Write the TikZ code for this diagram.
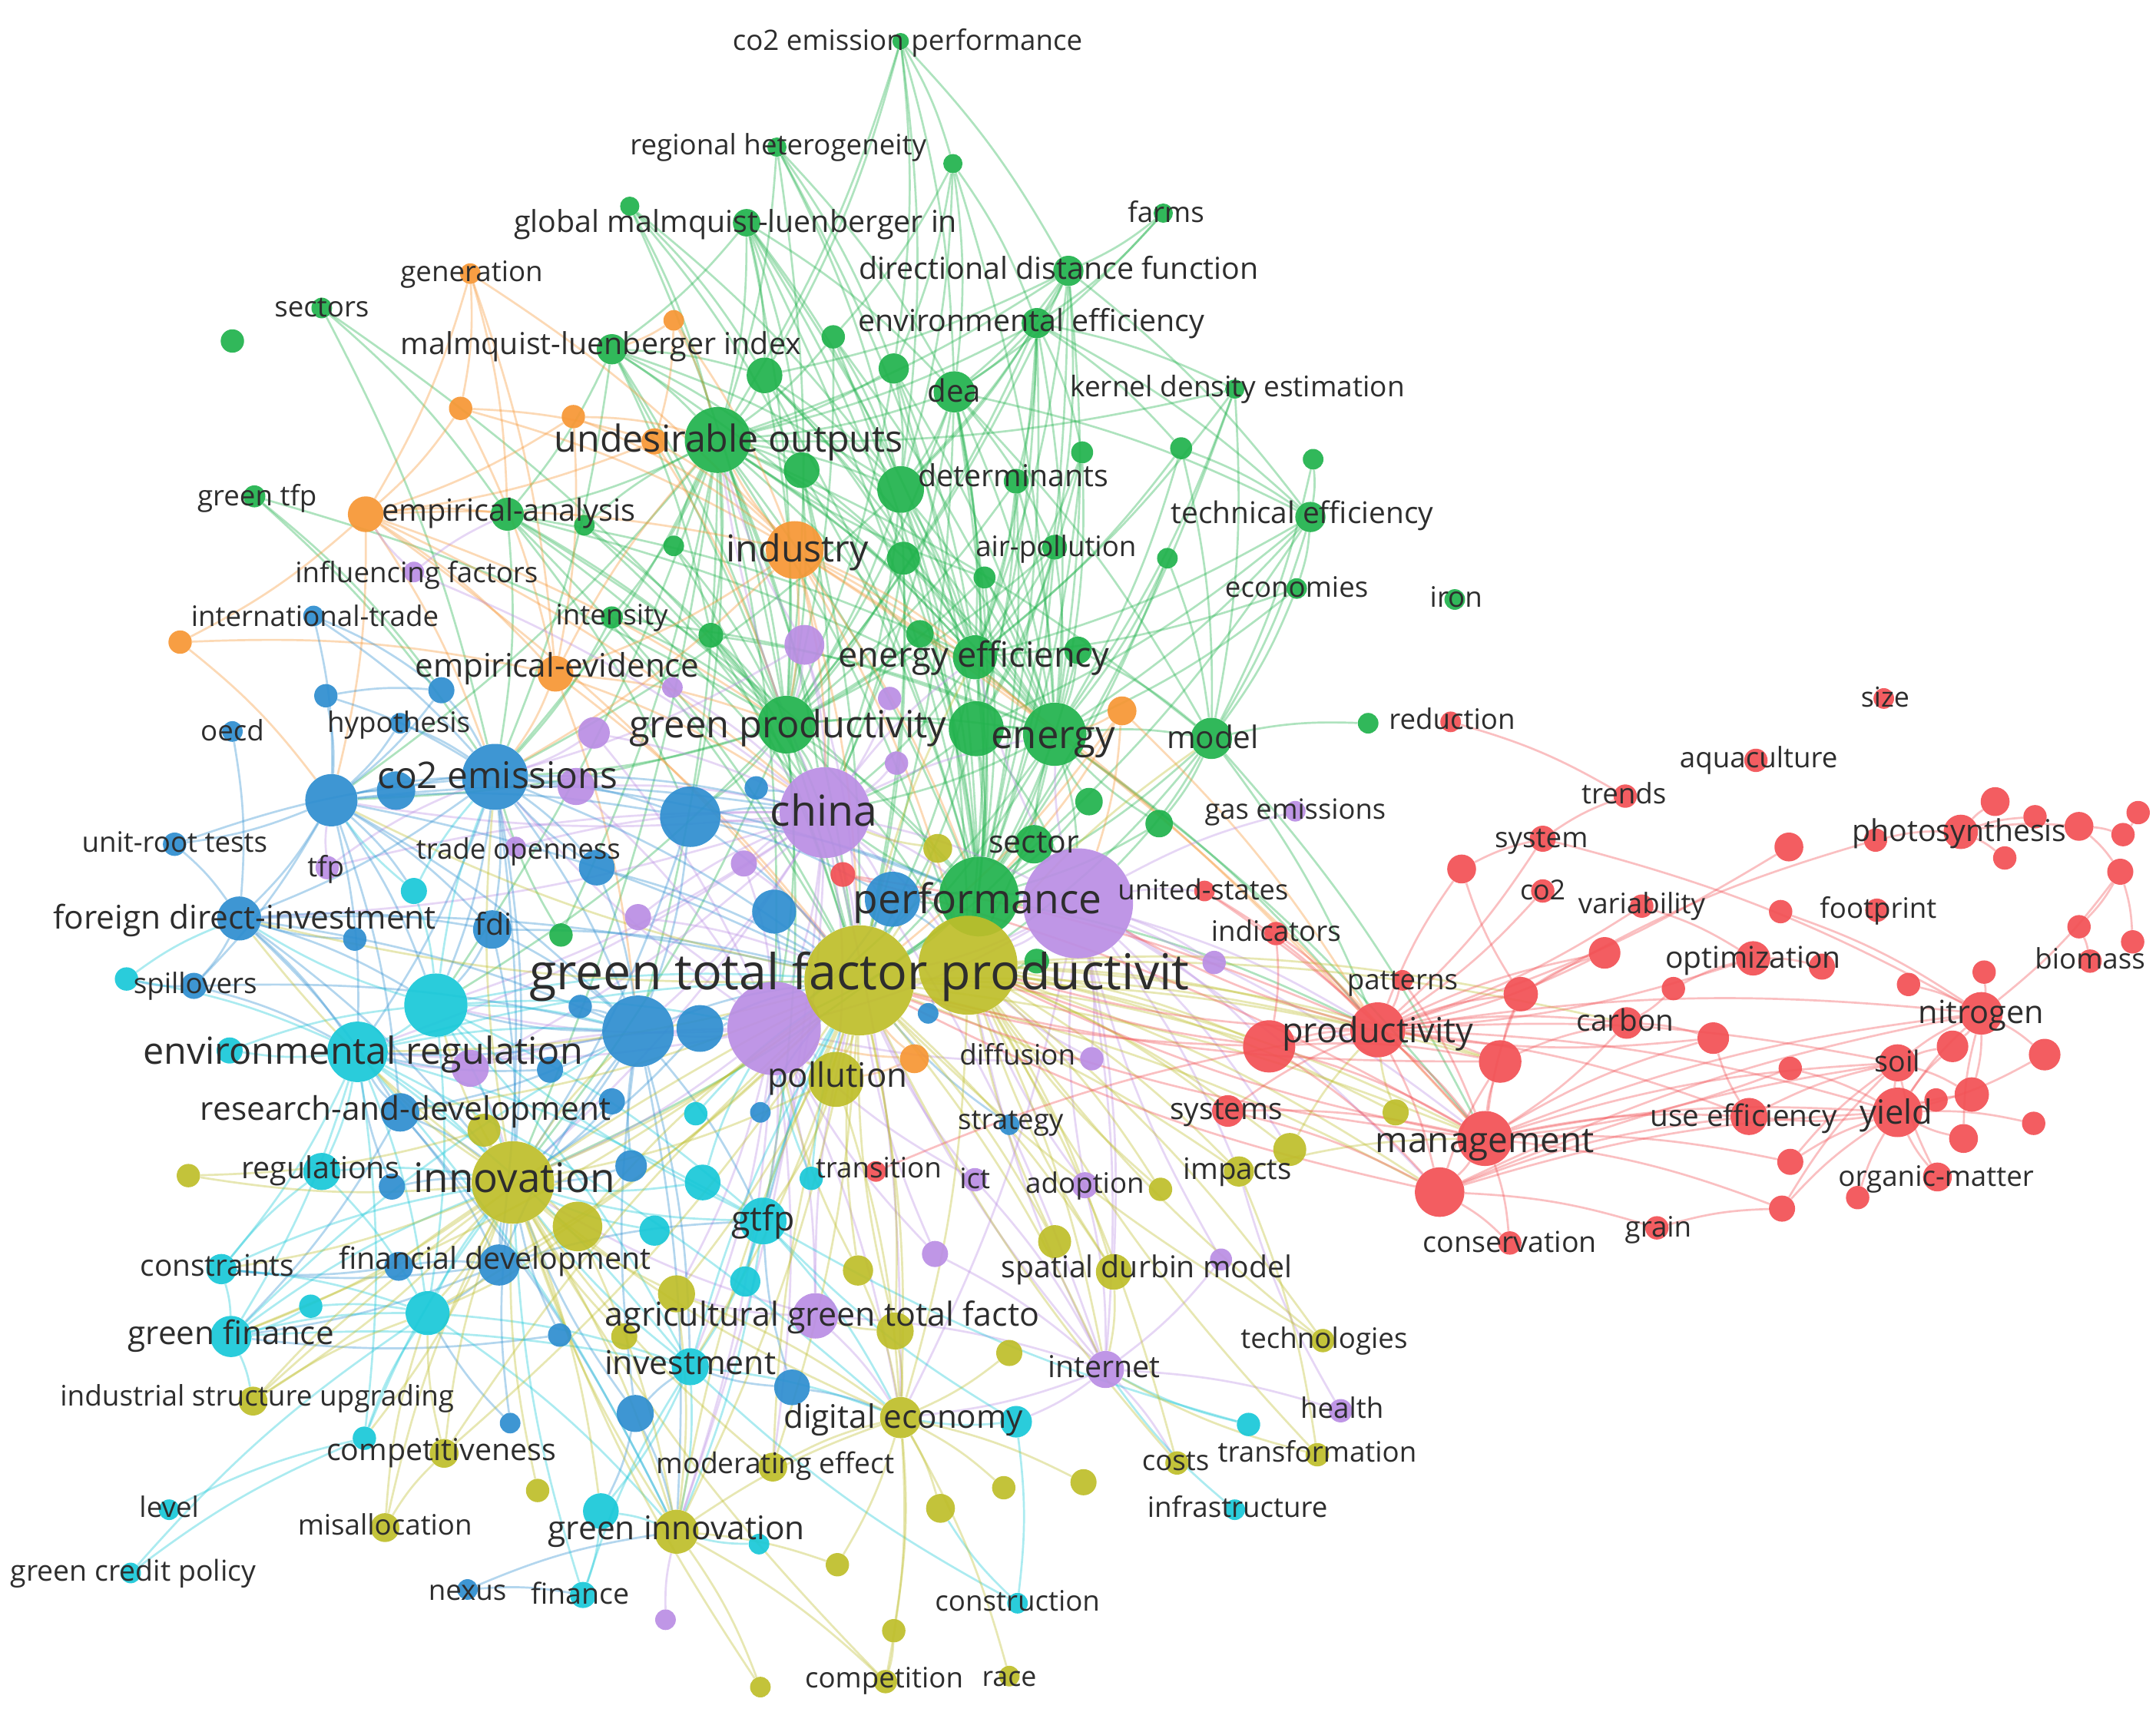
\documentclass[tikz,border=0pt]{standalone}
\usepackage{fontspec}
\setmainfont{Open Sans}
\pgfdeclarelayer{bg}\pgfdeclarelayer{fg}
\pgfsetlayers{bg,main,fg}
\definecolor{cg}{RGB}{32,178,76}
\definecolor{cr}{RGB}{242,80,84}
\definecolor{cb}{RGB}{46,142,208}
\definecolor{cc}{RGB}{24,200,216}
\definecolor{cy}{RGB}{190,190,42}
\definecolor{cp}{RGB}{186,142,228}
\definecolor{co}{RGB}{247,150,52}
\definecolor{labc}{RGB}{45,45,45}
\tikzset{
  vn/.style={circle,inner sep=0pt,draw=none,fill opacity=0.92},
  lab/.style={text=labc,inner sep=0pt,anchor=base},
  ed/.style={line width=1.5pt,draw opacity=0.36},
  eg/.style={ed,draw=cg}, eo/.style={ed,draw=co}, ep/.style={ed,draw=cp},
  eb/.style={ed,draw=cb}, ec/.style={ed,draw=cc}, ey/.style={ed,draw=cy},
  er/.style={ed,draw=cr}
}
\newcommand\VN[5]{\node[vn,fill=#5,minimum size=#4pt] (#1) at (#2,#3) {};}
\newcommand\VL[5]{\node[lab,font=\fontsize{#4}{#4}\selectfont] (#1) at (#2,{#3+0.32*#4}) {#5};}
\begin{document}
\begin{tikzpicture}[x=1pt,y=-1pt]
\begin{pgfonlayer}{bg}
\fill[white] (0,0) rectangle (1568,1245);
\end{pgfonlayer}
\useasboundingbox (0,0) rectangle (1568,1245);
% ---------------- green
\VN{gA}{655}{30}{12}{cg}\VN{gB}{565}{107}{14}{cg}\VN{gC}{693}{119}{14}{cg}
\VN{gD}{543}{162}{20}{cg}\VN{gE}{458}{150}{14}{cg}\VN{gF}{846}{155}{14}{cg}
\VN{gG}{777}{197}{22}{cg}\VN{gH}{754}{235}{22}{cg}\VN{gI}{606}{245}{17}{cg}
\VN{gJ}{445}{254}{22}{cg}\VN{gK}{556}{273}{26}{cg}\VN{gL}{650}{268}{22}{cg}
\VN{gM}{694}{285}{30}{cg}\VN{gN}{898}{283}{14}{cg}\VN{gO}{522}{320}{48}{cg}
\VN{gP}{583}{342}{26}{cg}\VN{gQ}{655}{356}{34}{cg}\VN{gR}{739}{350}{18}{cg}
\VN{gS}{787}{329}{16}{cg}\VN{gT}{859}{326}{16}{cg}\VN{gU}{955}{334}{15}{cg}
\VN{gV}{953}{376}{22}{cg}\VN{gW}{767}{398}{18}{cg}\VN{gX}{849}{406}{15}{cg}
\VN{gY}{657}{406}{24}{cg}\VN{gZ}{369}{374}{24}{cg}\VN{ga}{425}{382}{15}{cg}
\VN{gb}{490}{397}{15}{cg}\VN{gc}{185}{361}{16}{cg}\VN{gd}{234}{224}{15}{cg}
\VN{ge}{169}{248}{17}{cg}\VN{gf}{943}{428}{15}{cg}\VN{gg}{1058}{436}{15}{cg}
\VN{gh}{445}{449}{16}{cg}\VN{gi}{517}{462}{18}{cg}\VN{gj}{669}{461}{20}{cg}
\VN{gk}{709}{478}{32}{cg}\VN{gl}{784}{473}{20}{cg}\VN{gm}{716}{420}{16}{cg}
\VN{gn}{572}{527}{42}{cg}\VN{go}{710}{530}{40}{cg}\VN{gp}{767}{534}{46}{cg}
\VN{gq}{881}{537}{30}{cg}\VN{gr}{995}{526}{15}{cg}\VN{gs}{792}{583}{20}{cg}
\VN{gt}{843}{599}{20}{cg}\VN{gu}{752}{614}{28}{cg}\VN{gv}{712}{652}{58}{cg}
\VN{gw}{408}{680}{17}{cg}\VN{gx}{754}{699}{18}{cg}
% ---------------- orange
\VN{oA}{342}{199}{15}{co}\VN{oB}{490}{233}{15}{co}\VN{oC}{335}{297}{17}{co}
\VN{oD}{417}{303}{17}{co}\VN{oE}{476}{321}{19}{co}\VN{oF}{266}{374}{26}{co}
\VN{oG}{578}{400}{42}{co}\VN{oH}{131}{467}{17}{co}\VN{oI}{404}{490}{26}{co}
\VN{oJ}{816}{517}{21}{co}\VN{oK}{665}{770}{21}{co}
% ---------------- blue
\VN{bA}{228}{448}{15}{cb}\VN{bB}{237}{506}{17}{cb}\VN{bC}{321}{502}{19}{cb}
\VN{bD}{291}{526}{15}{cb}\VN{bE}{169}{532}{15}{cb}\VN{bF}{241}{582}{38}{cb}
\VN{bG}{288}{575}{28}{cb}\VN{bH}{360}{565}{48}{cb}\VN{bI}{502}{594}{44}{cb}
\VN{bJ}{550}{573}{17}{cb}\VN{bK}{127}{614}{17}{cb}\VN{bL}{434}{631}{26}{cb}
\VN{bM}{174}{668}{32}{cb}\VN{bN}{358}{676}{28}{cb}\VN{bO}{258}{683}{17}{cb}
\VN{bP}{141}{717}{19}{cb}\VN{bQ}{649}{654}{40}{cb}\VN{bR}{563}{663}{32}{cb}
\VN{bS}{464}{750}{52}{cb}\VN{bT}{509}{748}{34}{cb}\VN{bU}{422}{732}{17}{cb}
\VN{bV}{400}{778}{19}{cb}\VN{bW}{291}{809}{28}{cb}\VN{bX}{445}{801}{19}{cb}
\VN{bY}{285}{863}{19}{cb}\VN{bZ}{459}{848}{23}{cb}\VN{ba}{290}{921}{21}{cb}
\VN{bb}{363}{920}{30}{cb}\VN{bc}{407}{971}{17}{cb}\VN{bd}{462}{1028}{27}{cb}
\VN{be}{371}{1035}{15}{cb}\VN{bf}{340}{1156}{15}{cb}\VN{bg}{734}{818}{15}{cb}
\VN{bh}{576}{1009}{26}{cb}\VN{bi}{553}{809}{15}{cb}\VN{bj}{675}{737}{15}{cb}
% ---------------- cyan
\VN{cA}{301}{648}{19}{cc}\VN{cB}{92}{712}{17}{cc}\VN{cC}{317}{731}{46}{cc}
\VN{cD}{260}{765}{44}{cc}\VN{cE}{167}{764}{19}{cc}\VN{cF}{506}{810}{17}{cc}
\VN{cG}{511}{860}{26}{cc}\VN{cH}{590}{857}{17}{cc}\VN{cI}{555}{888}{34}{cc}
\VN{cJ}{476}{895}{22}{cc}\VN{cK}{542}{932}{22}{cc}\VN{cL}{161}{923}{22}{cc}
\VN{cM}{226}{950}{17}{cc}\VN{cN}{168}{972}{30}{cc}\VN{cO}{311}{955}{32}{cc}
\VN{cP}{502}{994}{27}{cc}\VN{cQ}{739}{1034}{23}{cc}\VN{cR}{265}{1046}{17}{cc}
\VN{cS}{123}{1098}{15}{cc}\VN{cT}{95}{1144}{15}{cc}\VN{cU}{437}{1099}{26}{cc}
\VN{cV}{424}{1160}{19}{cc}\VN{cW}{552}{1123}{15}{cc}\VN{cX}{740}{1166}{15}{cc}
\VN{cY}{908}{1036}{17}{cc}\VN{cZ}{898}{1098}{15}{cc}\VN{ca}{234}{852}{27}{cc}
% ---------------- purple
\VN{pA}{301}{416}{15}{cp}\VN{pB}{585}{469}{29}{cp}\VN{pC}{489}{500}{15}{cp}
\VN{pD}{647}{508}{17}{cp}\VN{pE}{432}{533}{23}{cp}\VN{pF}{652}{555}{17}{cp}
\VN{pG}{419}{572}{27}{cp}\VN{pH}{600}{591}{66}{cp}\VN{pI}{238}{631}{17}{cp}
\VN{pJ}{375}{616}{15}{cp}\VN{pK}{541}{628}{19}{cp}\VN{pL}{464}{667}{19}{cp}
\VN{pM}{784}{657}{80}{cp}\VN{pN}{563}{748}{68}{cp}\VN{pO}{342}{777}{27}{cp}
\VN{pP}{883}{700}{17}{cp}\VN{pQ}{942}{590}{15}{cp}\VN{pR}{794}{770}{17}{cp}
\VN{pS}{709}{858}{17}{cp}\VN{pT}{789}{862}{19}{cp}\VN{pU}{680}{912}{19}{cp}
\VN{pV}{888}{916}{16}{cp}\VN{pW}{593}{957}{33}{cp}\VN{pX}{804}{996}{27}{cp}
\VN{pY}{975}{1026}{17}{cp}\VN{pZ}{484}{1178}{15}{cp}
% ---------------- olive
\VN{yC}{682}{617}{21}{cy}\VN{yD}{608}{785}{40}{cy}\VN{yE}{373}{860}{60}{cy}
\VN{yF}{420}{892}{36}{cy}\VN{yG}{352}{822}{24}{cy}\VN{yH}{137}{855}{17}{cy}
\VN{yI}{492}{941}{27}{cy}\VN{yJ}{454}{972}{19}{cy}\VN{yK}{184}{1019}{21}{cy}
\VN{yL}{323}{1057}{21}{cy}\VN{yM}{280}{1111}{21}{cy}\VN{yN}{391}{1084}{17}{cy}
\VN{yO}{492}{1114}{32}{cy}\VN{yP}{562}{1067}{21}{cy}\VN{yQ}{624}{924}{22}{cy}
\VN{yR}{767}{903}{24}{cy}\VN{yS}{810}{925}{26}{cy}\VN{yT}{734}{984}{19}{cy}
\VN{yU}{651}{968}{27}{cy}\VN{yV}{655}{1031}{30}{cy}\VN{yW}{901}{852}{22}{cy}
\VN{yX}{844}{865}{17}{cy}\VN{yY}{938}{836}{24}{cy}\VN{yZ}{1015}{809}{19}{cy}
\VN{ya}{962}{975}{17}{cy}\VN{yb}{856}{1064}{17}{cy}\VN{yc}{958}{1058}{17}{cy}
\VN{yd}{684}{1097}{21}{cy}\VN{ye}{730}{1082}{17}{cy}\VN{yf}{788}{1078}{19}{cy}
\VN{yg}{609}{1138}{17}{cy}\VN{yh}{650}{1186}{17}{cy}\VN{yi}{644}{1223}{17}{cy}
\VN{yj}{734}{1219}{15}{cy}\VN{yk}{553}{1227}{15}{cy}
\VN{yA}{625}{713}{80}{cy}\VN{yB}{704}{702}{72}{cy}
% ---------------- red
\VN{rA}{613}{636}{18}{cr}\VN{rB}{876}{648}{15}{cr}\VN{rC}{928}{679}{17}{cr}
\VN{rD}{1020}{713}{15}{cr}\VN{rE}{923}{761}{38}{cr}\VN{rF}{1002}{749}{40}{cr}
\VN{rG}{893}{808}{23}{cr}\VN{rH}{637}{852}{15}{cr}\VN{rI}{1080}{828}{40}{cr}
\VN{rJ}{1047}{867}{36}{cr}\VN{rK}{1098}{904}{17}{cr}\VN{rL}{1205}{893}{17}{cr}
\VN{rM}{1296}{879}{19}{cr}\VN{rN}{1302}{845}{19}{cr}\VN{rO}{1351}{871}{17}{cr}
\VN{rP}{1409}{856}{21}{cr}\VN{rQ}{1428}{828}{21}{cr}\VN{rR}{1380}{809}{36}{cr}
\VN{rS}{1272}{812}{27}{cr}\VN{rT}{1091}{772}{31}{cr}\VN{rU}{1380}{773}{27}{cr}
\VN{rV}{1183}{744}{23}{cr}\VN{rW}{1246}{755}{23}{cr}\VN{rX}{1106}{723}{25}{cr}
\VN{rY}{1167}{693}{23}{cr}\VN{rZ}{1217}{719}{17}{cr}\VN{ra}{1275}{697}{25}{cr}
\VN{rb}{1325}{703}{19}{cr}\VN{rc}{1063}{632}{21}{cr}\VN{rd}{1122}{610}{19}{cr}
\VN{re}{1122}{648}{17}{cr}\VN{rf}{1194}{659}{17}{cr}\VN{rg}{1182}{579}{17}{cr}
\VN{rh}{1277}{553}{17}{cr}\VN{ri}{1370}{508}{15}{cr}\VN{rj}{1301}{616}{21}{cr}
\VN{rk}{1295}{663}{17}{cr}\VN{rl}{1365}{662}{17}{cr}\VN{rm}{1364}{611}{17}{cr}
\VN{rn}{1426}{605}{25}{cr}\VN{ro}{1451}{583}{21}{cr}\VN{rp}{1480}{594}{17}{cr}
\VN{rq}{1512}{601}{21}{cr}\VN{rr}{1555}{591}{17}{cr}\VN{rs}{1544}{607}{17}{cr}
\VN{rt}{1458}{624}{17}{cr}\VN{ru}{1542}{634}{19}{cr}\VN{rv}{1512}{674}{17}{cr}
\VN{rw}{1520}{699}{17}{cr}\VN{rx}{1551}{685}{17}{cr}\VN{ry}{1443}{707}{17}{cr}
\VN{rz}{1388}{716}{17}{cr}\VN{r0}{1441}{737}{31}{cr}\VN{r1}{1420}{761}{23}{cr}
\VN{r2}{1487}{767}{23}{cr}\VN{r3}{1434}{796}{25}{cr}\VN{r4}{1302}{777}{17}{cr}
\VN{r5}{1408}{800}{17}{cr}\VN{r6}{1479}{817}{17}{cr}\VN{r7}{1055}{525}{15}{cr}
% ---------------- edges
\begin{pgfonlayer}{bg}
\foreach \a/\b in {gA/gK,gA/gO,gA/gC,gA/gG,gA/gM,gA/gL,gA/gQ,gB/gM,gB/gO,gB/gL,gB/gQ,
gC/gI,gC/gL,gC/gM,gC/gQ,gC/gH,gD/gJ,gD/gO,gD/gK,gD/gM,gD/gQ,gD/gY,gD/gn,gD/gP,gD/gk,
gE/gK,gE/gO,gE/gP,gF/gG,gF/gH,gF/gM,gG/gH,gG/gM,gG/gO,gG/gQ,gG/gk,gG/gV,gG/gp,gG/gW,gG/gK,gG/gn,
gH/gM,gH/gO,gH/gQ,gH/gk,gH/gp,gH/gN,gH/gV,gH/gn,gH/gS,gH/gR,gH/gT,gH/gv,gH/go,
gI/gO,gI/gQ,gI/gn,gJ/gO,gJ/gZ,gJ/gK,gJ/gP,gJ/gn,gJ/gi,gJ/bH,gJ/gk,
gK/gO,gK/gQ,gK/gn,gK/gY,gK/gp,gL/gO,gL/gQ,gL/gp,gL/gn,
gM/gO,gM/gQ,gM/gk,gM/gp,gM/go,gM/gn,gM/gv,gM/gW,gM/gV,gM/yA,gM/pH,gM/gq,
gN/gp,gN/gq,gN/gO,gN/gk,gN/gv,
gO/gZ,gO/gn,gO/gk,gO/gp,gO/gv,gO/pH,gO/yA,gO/yB,gO/bH,gO/gY,gO/gP,gO/gQ,gO/go,gO/bI,gO/gh,gO/gi,gO/gw,gO/gq,gO/pN,gO/bS,
gQ/gn,gQ/gp,gQ/gv,gQ/yA,gQ/pH,gQ/gk,gQ/go,gR/gp,gR/gk,gR/go,gS/gk,gS/gp,gS/gv,
gT/gp,gT/gq,gT/gV,gU/gV,gU/gq,gV/gp,gV/gq,gV/gk,gV/gf,gV/go,gV/gv,
gW/gk,gW/gp,gW/gn,gW/gv,gX/gq,gX/gp,gY/gn,gY/gk,gY/gp,gY/yA,
gZ/gn,gZ/bH,gZ/pH,gZ/yA,gZ/gk,gZ/gp,gc/bC,gc/gn,gc/bH,gd/gn,gd/bH,gd/gZ,
gf/gp,gf/gq,gf/gk,gh/gn,gh/gp,gh/yA,gi/gn,gi/gp,gi/pH,
gj/gp,gj/gn,gk/gp,gl/gp,gl/gq,gm/gn,gm/gp,
gn/gp,gn/yA,gn/pH,gn/bH,gn/gv,gn/yB,gn/bI,gn/go,gn/yE,gn/cC,
go/gp,go/gv,go/yA,go/pM,gp/gq,gp/gv,gp/yB,gp/pM,gp/pH,gp/rF,gp/yA,gp/pN,
gq/gr,gq/pM,gq/yB,gq/gt,gq/gv,gq/rF,gs/gv,gt/gv,gu/gv,gu/yA,
gv/yA,gv/yB,gv/pH,gv/pM,gv/bQ,gv/yE,gv/pN,gv/rF,gw/bH,gx/yB,
gE/gn,gE/gQ,gB/gn,gB/gk,gC/gp,gI/gp,gI/gv,gL/gv,gL/gk,gK/gv,gK/gk,gP/gn,gP/gp,gP/gv,
gP/yA,gP/pH,gQ/yB,gQ/bH,gR/gv,gR/gn,gS/go,gT/gk,gW/go,gX/gv,gY/gv,gY/pH,gZ/gv,gZ/bI,
ga/gn,ga/gO,ga/pH,gb/gn,gb/gO,gb/yA,gh/bH,gi/yA,gj/gv,gk/gv,gk/yA,gk/pH,gk/yB,gl/gv,
gm/gv,gm/gO,go/pH,go/yB,gs/gp,gt/gp,gu/gp,gu/pM,gJ/gQ,gJ/yA,gD/gv,gG/gv,gM/yB,gO/yE,
gO/cC,gO/bF,gn/bF,gn/pN,gn/cI,gp/rI,gq/rI}
  \draw[eg] (\a) to[bend left=7] (\b);
\foreach \a/\b in {oA/oC,oA/oF,oA/gZ,oA/oI,oA/oG,oB/gO,oB/oE,oB/oG,oB/gJ,
oC/oF,oC/oG,oC/oE,oC/oI,oD/oF,oD/oG,oD/gO,oD/oI,oE/oG,oE/oF,
oF/gZ,oF/oG,oF/oI,oF/bF,oF/gn,oF/pH,oF/yA,oF/oH,
oG/gn,oG/pH,oG/yA,oG/yB,oG/gv,oG/gp,oG/oI,oG/rF,oG/rI,
oH/oI,oH/bF,oI/pH,oI/yA,oI/bH,oI/gn,oJ/gp,oJ/gv,oJ/yA,oJ/pM,oJ/rF,oK/yA,oK/pN,oK/yD,
oG/gO,oG/gk,oG/bH,oI/gO,oI/bS,oF/bH,oE/gn}
  \draw[eo] (\a) to[bend left=7] (\b);
\foreach \a/\b in {pA/oF,pA/gZ,pA/pH,pB/pH,pB/gn,pB/yA,pC/pH,pD/pH,pE/pH,pE/bH,pF/pH,pG/pH,pG/bH,
pH/pN,pH/yA,pH/yB,pH/pM,pH/bI,pH/bQ,pH/gv,pH/yD,pH/yE,pH/cC,pH/bS,pH/pO,pH/cI,
pI/bF,pI/bH,pI/pH,pJ/bH,pJ/pH,pK/pN,pK/pH,pL/pN,pL/pH,
pM/yA,pM/yB,pM/pN,pM/rF,pM/rE,pM/rI,pM/pP,pM/pQ,pM/pX,pM/yW,pM/rB,pM/yS,
pN/yA,pN/yE,pN/yD,pN/bS,pN/cI,pN/pW,pN/cC,pN/yV,pO/cD,pO/yE,pO/pN,pR/yB,pR/pN,
pS/pX,pS/yA,pS/pN,pT/pX,pT/yB,pT/pM,pU/pX,pU/pN,pV/pX,pV/pM,
pW/pX,pW/yA,pW/yI,pW/yV,pX/yV,pX/yB,pX/cQ,pX/pY,pX/yb,pX/yA,pY/yW,pZ/yO,
pH/gO,pH/gk,pH/gp,pH/bF,pH/bM,pH/cD,pH/yV,pH/yO,pH/pX,pN/bH,pN/cD,pN/yO,pN/yP,pN/yI,
pN/cP,pM/gp,pM/gk,pM/yV,pM/rJ,pM/yY,pM/pR,pB/gO,pB/bH,pE/pN,pG/pN,pK/yA,pL/yA,pO/bS,
pU/yA,pW/yE}
  \draw[ep] (\a) to[bend left=7] (\b);
\foreach \a/\b in {bA/bF,bA/bH,bA/bC,bB/bF,bB/bH,bB/bC,bC/bH,bC/bF,bD/bH,bD/bF,bE/bM,
bF/bH,bF/bG,bF/bM,bF/bN,bF/pH,bF/bI,bF/cC,bF/bS,bF/yA,bF/bK,bF/bP,bF/cD,bG/bH,
bH/bI,bH/pH,bH/bS,bH/yA,bH/bN,bH/bM,bH/bL,bH/cC,bI/yA,bI/pH,bI/bS,bI/bQ,bJ/pH,
bK/bH,bK/bM,bL/bH,bL/bS,bM/bN,bM/bS,bM/cD,bM/bP,bM/cC,bM/yA,bM/bW,bN/bS,bN/yA,bN/cC,
bO/bM,bP/cB,bP/bS,bP/cD,bQ/yA,bQ/yB,bQ/pN,bR/yA,bS/yA,bS/cC,bS/yE,bS/cI,bS/bW,bT/yA,bT/yE,
bU/bS,bV/cD,bW/cD,bW/yE,bW/cN,bW/bb,bX/yE,bY/yE,bY/cD,bZ/yE,bZ/bS,ba/bb,ba/cL,
bb/yE,bb/cN,bb/cL,bb/cO,bb/cI,bb/bS,bc/cN,bc/yE,bd/cP,bd/yO,bd/cU,bd/yE,bd/bS,
be/yE,be/cO,bf/cV,bf/yO,bg/yA,bh/yV,bh/cP,bh/cI,bi/yA,bj/yB,
bF/bW,bF/cA,bH/cD,bH/yE,bH/gv,bH/bb,bI/yE,bI/gv,bM/yE,bN/yE,bQ/pM,bS/cD,bS/yO,bS/cP,
bR/pN,bT/pN,bL/yA,bW/yO}
  \draw[eb] (\a) to[bend left=7] (\b);
\foreach \a/\b in {cA/cC,cA/bF,cA/bH,cB/cD,cB/bM,cC/cD,cC/yA,cC/yE,cC/bS,cC/pN,cC/cI,
cD/cE,cD/yE,cD/ca,cD/cN,cD/cL,cD/cO,cD/bS,cD/yA,cD/cI,cD/cP,cE/cC,
cF/yA,cG/pN,cG/yE,cH/pN,cH/yA,cI/yA,cI/yE,cI/cP,cI/yV,cI/cC,cJ/yE,cK/cI,cK/yA,
cL/cN,cL/cO,cL/yE,cL/ca,cM/cN,cM/cO,cN/cO,cN/yE,cN/cP,cN/yK,cO/yE,cO/cP,
cP/yE,cP/cU,cP/yO,cP/yV,cQ/yV,cQ/cX,cQ/cI,cR/cO,cR/yE,cS/cR,cT/cR,cT/cO,
cU/yO,cU/cV,cV/yE,cV/cP,cW/yO,cX/yd,cX/cP,cY/pX,cY/cI,cZ/pX,ca/yE,ca/cO,
cC/bH,cC/bM,cC/cO,cC/cP,cD/yO,cD/yV,cD/cR,cI/yO,cO/yO,cP/yA,cN/bS}
  \draw[ec] (\a) to[bend left=7] (\b);
\foreach \a/\b in {yA/yB,yA/yE,yA/yD,yA/rF,yA/rE,yA/rI,yA/yV,yA/yW,yA/yS,yA/yR,
yB/rF,yB/rE,yB/rI,yB/rJ,yB/yW,yB/yY,yB/yS,yB/rG,yB/yZ,yB/rT,yC/yA,yC/pH,yD/yE,yD/cI,
yE/yF,yE/yG,yE/cO,yE/yH,yF/yA,yG/yH,yI/yV,yI/yE,yJ/yE,yK/yE,yK/yA,yK/cO,
yL/yE,yL/cO,yL/yA,yM/yE,yM/cO,yM/yL,yN/yE,yO/yV,yO/yE,yO/yA,yO/yi,yO/yk,yO/yg,
yP/yV,yP/yA,yP/yE,yQ/yA,yR/yB,yS/yB,yS/pX,yT/yV,yU/yV,yU/yA,
yV/yE,yV/yd,yV/yf,yV/ye,yV/yh,yV/yi,yV/yj,yV/yg,yW/yc,yW/rI,yX/yB,yY/rF,yZ/rF,
ya/yB,ya/yA,yb/yA,yc/pX,yc/yB,yh/yi,yi/yE,yk/yE,
yA/gk,yA/bF,yA/bM,yA/cD,yA/cN,yA/cO,yA/yO,yA/yP,yA/yI,yA/yU,yA/cP,yA/pX,yA/rJ,yA/rT,
yA/yL,yA/bb,yA/bW,yB/gq,yB/yV,yB/pX,yB/yb,yB/ya,yB/yX,yB/rX,yB/rV,yE/cD,yE/cC,yE/bH,
yE/bM,yE/cN,yE/cL,yE/cR,yE/yK,yE/yO,yE/cU,yE/bS,yD/yV,yD/pN,yF/cO,yF/yO,yI/yO,yQ/yV,
yQ/pN,yU/pW}
  \draw[ey] (\a) to[bend left=7] (\b);
\foreach \a/\b in {rA/rF,rA/rI,rB/rF,rB/rI,rC/rF,rC/rE,rD/rF,rD/rI,rE/rF,rE/rI,rE/rT,rE/yA,
rF/rI,rF/rJ,rF/rT,rF/rX,rF/rc,rF/rR,rF/rS,rF/rV,rF/rU,rF/r0,rF/yB,rG/rI,rG/rF,rH/rF,
rI/rJ,rI/rR,rI/rS,rI/rU,rI/r0,rI/rT,rI/rK,rI/rM,rI/rN,rI/rW,rI/yB,
rJ/rK,rJ/rR,rJ/rL,rJ/rS,rJ/rT,rL/rM,rM/rR,rM/rU,rN/rR,rN/rU,rO/rR,rP/rR,rP/rU,rQ/rR,rQ/r0,
rR/rU,rR/r0,rR/rS,rR/r3,rR/r1,rR/r5,rR/r6,rS/rU,rS/rW,rT/rX,rT/rV,rU/r0,rU/r1,rU/r3,
rV/rW,rV/rI,rW/rF,rX/rY,rX/rc,rX/rm,rY/rF,rZ/ra,rZ/rV,ra/rF,ra/rb,rc/rd,rd/rF,rd/rg,rd/r0,
re/rF,rf/rF,rf/ra,r7/rg,rj/rF,rk/r0,rm/rn,rn/ro,rn/rp,rn/rt,rn/rq,rq/rs,rq/ru,rr/rs,
ru/rv,ru/rx,ru/r0,rv/rw,ry/r0,rz/r0,r0/r1,r0/r2,r0/r3,r2/rR,r4/rR,r4/rI,
rI/yA,rE/yB,rF/pM,rJ/yA,rT/yA,rI/rX,rJ/rU,rF/rY,rJ/r0,rE/rJ,rG/rJ}
  \draw[er] (\a) to[bend left=7] (\b);
\end{pgfonlayer}
% ---------------- labels
\begin{pgfonlayer}{fg}
\VL{l01}{660}{30}{20.5}{co2 emission performance}
\VL{l02}{566}{106}{20.5}{regional heterogeneity}
\VL{l03}{535}{162}{22}{global malmquist-luenberger in}
\VL{l04}{848}{155}{20.5}{farms}
\VL{l05}{343}{198}{20.5}{generation}
\VL{l06}{234}{224}{20.5}{sectors}
\VL{l07}{770}{196}{22}{directional distance function}
\VL{l08}{750}{234}{22}{environmental efficiency}
\VL{l09}{437}{251}{22}{malmquist-luenberger index}
\VL{l10}{694}{285}{22.5}{dea}
\VL{l11}{900}{282}{20.7}{kernel density estimation}
\VL{l12}{530}{320}{27}{undesirable outputs}
\VL{l13}{187}{361}{20.5}{green tfp}
\VL{l14}{737}{347}{22}{determinants}
\VL{l15}{370}{372}{22.2}{empirical-analysis}
\VL{l16}{947}{374}{21.7}{technical efficiency}
\VL{l17}{580}{400}{27}{industry}
\VL{l18}{768}{398}{20.5}{air-pollution}
\VL{l19}{303}{417}{20.5}{influencing factors}
\VL{l20}{943}{428}{20.5}{economies}
\VL{l21}{1059}{435}{20.5}{iron}
\VL{l22}{229}{449}{20.5}{international-trade}
\VL{l23}{445}{448}{20.5}{intensity}
\VL{l24}{405}{485}{23.6}{empirical-evidence}
\VL{l25}{708}{477}{25.2}{energy efficiency}
\VL{l26}{1371}{508}{20}{size}
\VL{l27}{290}{526}{20.5}{hypothesis}
\VL{l28}{169}{532}{20.5}{oecd}
\VL{l29}{573}{528}{27.3}{green productivity}
\VL{l30}{766}{535}{28.4}{energy}
\VL{l31}{882}{537}{22.6}{model}
\VL{l32}{1056}{524}{20.5}{reduction}
\VL{l33}{1279}{552}{20.5}{aquaculture}
\VL{l34}{362}{565}{26.7}{co2 emissions}
\VL{l35}{1181}{578}{20.5}{trends}
\VL{l36}{599}{591}{31}{china}
\VL{l37}{942}{589}{20.3}{gas emissions}
\VL{l38}{752}{613}{22.9}{sector}
\VL{l39}{1121}{610}{20.5}{system}
\VL{l40}{1425}{605}{21.9}{photosynthesis}
\VL{l41}{127}{613}{20.5}{unit-root tests}
\VL{l42}{237}{631}{20.5}{tfp}
\VL{l43}{377}{618}{20.5}{trade openness}
\VL{l44}{1122}{648}{20}{co2}
\VL{l45}{1194}{658}{20.5}{variability}
\VL{l46}{1366}{661}{20.5}{footprint}
\VL{l47}{711}{655}{29.8}{performance}
\VL{l48}{875}{648}{20.3}{united-states}
\VL{l49}{178}{668}{23.7}{foreign direct-investment}
\VL{l50}{359}{673}{22}{fdi}
\VL{l51}{928}{678}{20.5}{indicators}
\VL{l52}{1275}{697}{21.8}{optimization}
\VL{l53}{1520}{698}{20.5}{biomass}
\VL{l54}{625}{708}{36}{green total factor productivit}
\VL{l55}{142}{716}{20.5}{spillovers}
\VL{l56}{1020}{713}{20.5}{patterns}
\VL{l57}{1441}{737}{23.2}{nitrogen}
\VL{l58}{1182}{743}{21.6}{carbon}
\VL{l59}{1002}{750}{25.2}{productivity}
\VL{l60}{264}{765}{27.1}{environmental regulation}
\VL{l61}{740}{768}{20.5}{diffusion}
\VL{l62}{609}{783}{24.5}{pollution}
\VL{l63}{1380}{773}{21}{soil}
\VL{l64}{295}{807}{23.7}{research-and-development}
\VL{l65}{892}{807}{21.7}{systems}
\VL{l66}{1080}{830}{25.6}{management}
\VL{l67}{1268}{812}{21.6}{use efficiency}
\VL{l68}{1379}{810}{24.3}{yield}
\VL{l69}{735}{815}{20.5}{strategy}
\VL{l70}{233}{850}{22}{regulations}
\VL{l71}{374}{858}{29.6}{innovation}
\VL{l72}{639}{850}{20.5}{transition}
\VL{l73}{709}{858}{20.5}{ict}
\VL{l74}{789}{861}{20.5}{adoption}
\VL{l75}{900}{851}{21.5}{impacts}
\VL{l76}{1408}{856}{20.5}{organic-matter}
\VL{l77}{555}{887}{25}{gtfp}
\VL{l78}{1206}{893}{20.5}{grain}
\VL{l79}{1098}{904}{21}{conservation}
\VL{l80}{158}{921}{21.7}{constraints}
\VL{l81}{360}{916}{22}{financial development}
\VL{l82}{834}{922}{21.9}{spatial durbin model}
\VL{l83}{598}{957}{24}{agricultural green total facto}
\VL{l84}{168}{970}{23.6}{green finance}
\VL{l85}{963}{974}{20.5}{technologies}
\VL{l86}{502}{992}{23.9}{investment}
\VL{l87}{803}{995}{22}{internet}
\VL{l88}{187}{1016}{20.6}{industrial structure upgrading}
\VL{l89}{657}{1031}{23.6}{digital economy}
\VL{l90}{976}{1025}{20.5}{health}
\VL{l91}{321}{1055}{22}{competitiveness}
\VL{l92}{958}{1057}{20.5}{transformation}
\VL{l93}{855}{1063}{20.5}{costs}
\VL{l94}{564}{1065}{20.8}{moderating effect}
\VL{l95}{123}{1097}{20.5}{level}
\VL{l96}{900}{1097}{20.5}{infrastructure}
\VL{l97}{280}{1110}{20.5}{misallocation}
\VL{l98}{492}{1112}{23.7}{green innovation}
\VL{l99}{97}{1143}{20.9}{green credit policy}
\VL{m00}{340}{1157}{20.5}{nexus}
\VL{m01}{422}{1160}{21}{finance}
\VL{m02}{740}{1165}{20.5}{construction}
\VL{m03}{643}{1221}{20.5}{competition}
\VL{m04}{734}{1220}{20}{race}
\end{pgfonlayer}
\end{tikzpicture}
\end{document}
